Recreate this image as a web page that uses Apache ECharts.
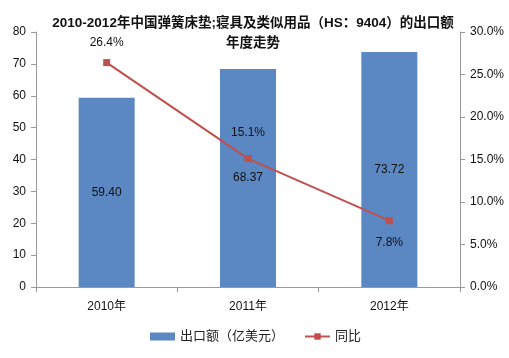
<!DOCTYPE html>
<html><head><meta charset="utf-8">
<script src="https://cdn.jsdelivr.net/npm/echarts@6/dist/echarts.min.js"></script>
<style>html,body{margin:0;padding:0;background:#fff}#c{width:509px;height:358px}</style>
</head><body><div id="c"></div>
<script>
var categories = ['2010年', '2011年', '2012年'];
var exportValues = [59.40, 68.37, 73.72];
var yoyValues = [26.4, 15.1, 7.8];
var leftTicks = [0, 80, 10];
var rightTicks = [0, 30, 5];

var font = 'Liberation Sans, Arial, "Noto Sans CJK SC", sans-serif';
var chart = echarts.init(document.getElementById('c'));
chart.setOption({
  animation: false,
  textStyle: {fontFamily: font},
  title: {
    text: '2010-2012年中国弹簧床垫;寝具及类似用品（HS：9404）的出口额\n年度走势',
    left: 248, top: 8, textAlign: 'center',
    textStyle: {fontSize: 13.5, fontWeight: 'bold', color: '#111', lineHeight: 20, fontFamily: font}
  },
  grid: {left: 36, right: 49, top: 32, bottom: 71},
  legend: {
    bottom: 10, left: 145, itemGap: 20, itemWidth: 25, itemHeight: 8,
    textStyle: {fontSize: 13, color: '#222'},
    data: [{name: '出口额（亿美元）', icon: 'rect'}, {name: '同比'}]
  },
  xAxis: {
    type: 'category', data: categories,
    axisLine: {lineStyle: {color: '#999'}},
    axisTick: {show: true, alignWithLabel: false, length: 5, lineStyle: {color: '#999'}},
    axisLabel: {color: '#111', fontSize: 12, margin: 14}
  },
  yAxis: [{
    type: 'value', min: leftTicks[0], max: leftTicks[1], interval: leftTicks[2],
    axisLine: {show: true, lineStyle: {color: '#999'}},
    axisTick: {show: true, length: 5, lineStyle: {color: '#999'}},
    splitLine: {show: false},
    axisLabel: {color: '#111', fontSize: 12, margin: 10}
  }, {
    type: 'value', min: rightTicks[0], max: rightTicks[1], interval: rightTicks[2],
    axisLine: {show: true, lineStyle: {color: '#999'}},
    axisTick: {show: true, length: 5, lineStyle: {color: '#999'}},
    splitLine: {show: false},
    axisLabel: {color: '#111', fontSize: 12, margin: 10, formatter: function(v){return v.toFixed(1)+'%';}}
  }],
  series: [{
    name: '出口额（亿美元）', type: 'bar', data: exportValues, barWidth: 56,
    itemStyle: {color: '#5b87c2'},
    label: {show: true, position: 'inside', color: '#111', fontSize: 12, formatter: function(p){return p.value.toFixed(2);}}
  }, {
    name: '同比', type: 'line', yAxisIndex: 1,
    data: yoyValues.map(function(v, i){
      return {value: v, label: {position: i === 2 ? 'bottom' : 'top', distance: i === 2 ? 12 : (i === 0 ? 10 : 16)}};
    }),
    symbol: 'rect', symbolSize: 7,
    lineStyle: {color: '#c0504d', width: 2},
    itemStyle: {color: '#c0504d'},
    label: {show: true, color: '#111', fontSize: 12, formatter: function(p){return p.value.toFixed(1)+'%';}}
  }]
});
</script></body></html>
